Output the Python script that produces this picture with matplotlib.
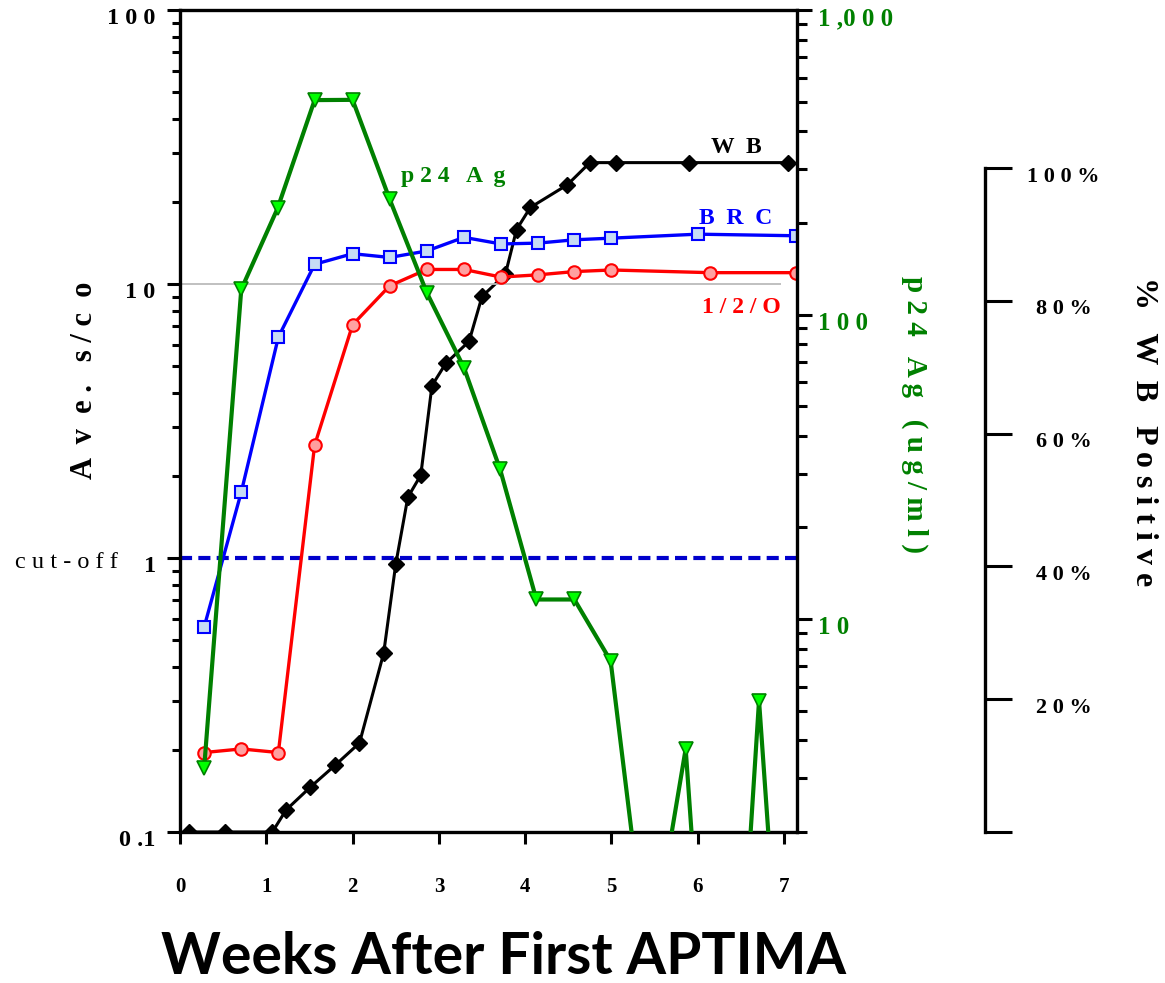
import matplotlib
matplotlib.use("Agg")
import matplotlib.pyplot as plt
from matplotlib.ticker import LogLocator, NullFormatter
from matplotlib.transforms import ScaledTranslation

# values
brc_weeks = [0.28, 0.71, 1.14, 1.56, 2.0, 2.43, 2.86, 3.29, 3.72, 4.15, 4.57, 5.0, 6.0, 7.14]
brc_sco = [0.56, 1.74, 6.4, 11.8, 12.9, 12.5, 13.2, 14.8, 14.0, 14.1, 14.5, 14.7, 15.2, 15.0]

ho_weeks = [0.28, 0.71, 1.14, 1.56, 2.0, 2.43, 2.86, 3.29, 3.72, 4.15, 4.57, 5.0, 6.14, 7.14]
ho_sco = [0.195, 0.201, 0.195, 2.58, 7.1, 9.85, 11.3, 11.3, 10.6, 10.8, 11.1, 11.25, 11.0, 11.0]

wb_weeks = [0.1, 0.52, 1.07, 1.23, 1.51, 1.8, 2.08, 2.36, 2.5, 2.64, 2.79, 2.92, 3.08,
            3.35, 3.5, 3.77, 3.9, 4.06, 4.49, 4.75, 5.05, 5.9, 7.04]
wb_pct = [0, 0, 0, 3.3, 6.7, 10, 13.3, 26.7, 40, 50, 53.3, 66.7, 70,
          73.3, 80, 83.3, 90, 93.3, 96.7, 100, 100, 100, 100]

p24_weeks = [0.28, 0.71, 1.13, 1.56, 2.0, 2.43, 2.86, 3.29, 3.71, 4.13, 4.57, 4.99,
             5.43, 5.86, 6.04, 6.51, 6.71, 6.93]
p24_ugml = [3.25, 121, 223, 506, 507, 239, 118, 67, 31, 11.6, 11.6, 7.3,
            0.7, 3.75, 0.7, 0.7, 5.4, 0.7]

x_ticks = [0, 1, 2, 3, 4, 5, 6, 7]
sco_ticks = [0.1, 1, 10, 100]
sco_labels = ["0 .1", "1", "1 0", "1 0 0"]
p24_ticks = [10, 100, 1000]
p24_labels = ["1 0", "1 0 0", "1 ,0 0 0"]
pct_ticks = [0, 20, 40, 60, 80, 100]
pct_labels = ["", "2 0 %", "4 0 %", "6 0 %", "8 0 %", "1 0 0 %"]

cutoff = 1
ref_line = 10
ref_line_end = 6.96

SERIF = "Liberation Serif"
GREEN = "#008000"
W, H = 1165, 983


def fx(px):
    return px / W


def fy(py):
    return 1 - py / H


fig = plt.figure(figsize=(11.65, 9.83), dpi=100)
box = [fx(180), fy(832), fx(797) - fx(180), fy(10) - fy(832)]

# WB on its own hidden linear axis, drawn underneath
ax_wb = fig.add_axes(box)
ax = fig.add_axes(box)
ax_p24 = fig.add_axes(box)
ax.patch.set_visible(False)
ax_p24.patch.set_visible(False)

xmax = 7.15
for a in (ax_wb, ax, ax_p24):
    a.set_xlim(0, xmax)

ax_wb.set_ylim(0, 122.8)
ax_wb.axis("off")
ax_wb.plot(wb_weeks, wb_pct, color="black", lw=2.2, marker="D", ms=8,
           mfc="black", mec="black")

# main s/co axis
ax.set_yscale("log")
ax.set_ylim(0.1, 100)
ax.hlines(ref_line, 0, ref_line_end, color="#BBBBBB", lw=1.3, zorder=1)
ax.axhline(cutoff, color="#0000CC", lw=3, dashes=(2.9, 1.5), zorder=1)
ax.plot(brc_weeks, brc_sco, color="#0000FF", lw=2.4, marker="s", ms=9,
        mfc="#C6DBF5", mec="#0000FF", mew=1.5, zorder=3)
ax.plot(ho_weeks, ho_sco, color="#FF0000", lw=2.4, marker="o", ms=9,
        mfc="#FFA0A0", mec="#FF0000", mew=1.5, zorder=3)

for s in ("left", "top", "bottom"):
    ax.spines[s].set_linewidth(2.4)
ax.spines["right"].set_visible(False)
ax.set_yticks(sco_ticks, sco_labels)
ax.yaxis.set_minor_locator(LogLocator(base=10, subs=range(2, 10)))
ax.yaxis.set_minor_formatter(NullFormatter())
ax.tick_params(axis="y", which="major", direction="out", length=9.5, width=2.2, pad=8,
               labelsize=17.5)
ax.tick_params(axis="y", which="minor", direction="out", length=6, width=2.2)
ax.set_xticks(x_ticks)
ax.tick_params(axis="x", direction="out", length=8.6, width=2.2, pad=24, labelsize=15)
for t in ax.get_yticklabels() + ax.get_xticklabels():
    t.set_fontfamily(SERIF)
    t.set_fontweight("bold")

# p24 axis on the right
ax_p24.set_yscale("log")
ax_p24.set_ylim(2, 1000)
ax_p24.plot(p24_weeks, p24_ugml, color=GREEN, lw=3, marker="v", ms=10,
            mfc="#00FF00", mec=GREEN, mew=1.2)
for s in ("left", "top", "bottom"):
    ax_p24.spines[s].set_visible(False)
ax_p24.spines["right"].set_linewidth(2.4)
ax_p24.xaxis.set_visible(False)
ax_p24.yaxis.tick_right()
ax_p24.set_yticks(p24_ticks, p24_labels)
ax_p24.yaxis.set_minor_locator(LogLocator(base=10, subs=range(2, 10)))
ax_p24.yaxis.set_minor_formatter(NullFormatter())
ax_p24.tick_params(axis="y", which="major", direction="out", length=11, width=2.2, pad=4,
                   labelsize=18, labelcolor=GREEN)
ax_p24.tick_params(axis="y", which="minor", direction="out", length=7, width=2.2)
for t in ax_p24.get_yticklabels():
    t.set_fontfamily(SERIF)
    t.set_fontweight("bold")

# separate % WB positive axis
ax_pct = fig.add_axes([fx(940), fy(832), fx(985) - fx(940), fy(10) - fy(832)])
ax_pct.patch.set_visible(False)
ax_pct.set_ylim(0, 123.8)
for s in ("left", "top", "bottom"):
    ax_pct.spines[s].set_visible(False)
ax_pct.spines["right"].set_linewidth(2.4)
ax_pct.spines["right"].set_bounds(0, 100)
ax_pct.xaxis.set_visible(False)
ax_pct.yaxis.tick_right()
ax_pct.set_yticks(pct_ticks, pct_labels)
ax_pct.tick_params(axis="y", direction="out", length=19.5, width=2.2, pad=37, labelsize=16)
for t in ax_pct.get_yticklabels():
    t.set_fontfamily(SERIF)
    t.set_fontweight("bold")
    t.set_ha("center")

# the value labels sit a little below their ticks in the original
shift = ScaledTranslation(0, -0.06, fig.dpi_scale_trans)
for t in ax.get_yticklabels() + ax_p24.get_yticklabels() + ax_pct.get_yticklabels():
    t.set_transform(t.get_transform() + shift)

# series labels
lab = dict(fontfamily=SERIF, fontweight="bold", fontsize=17, ha="center", va="center")
ax.text(6.45, 31.6, "W  B", color="black", **lab)
ax.text(6.44, 17.3, "B  R  C", color="#0000FF", **lab)
ax.text(6.51, 8.2, "1 / 2 / O", color="#FF0000", **lab)
ax.text(3.16, 24.6, "p 2 4   A  g", color=GREEN, **lab)

# axis titles
fig.text(fx(85), fy(380), "A  v  e .   s / c  o", rotation=90, ha="center", va="center",
         fontfamily=SERIF, fontweight="bold", fontsize=22)
fig.text(fx(915), fy(414), "p 2 4   A g   ( u g / m l )", rotation=270, ha="center",
         va="center", fontfamily=SERIF, fontweight="bold", fontsize=21, color=GREEN)
fig.text(fx(1143), fy(432), "%   W  B   P o s i t i v e", rotation=270, ha="center",
         va="center", fontfamily=SERIF, fontweight="bold", fontsize=23)
fig.text(fx(15), fy(563), "c u t - o f f", ha="left", va="center",
         fontfamily=SERIF, fontsize=17.5)
fig.text(fx(504), fy(958), "Weeks After First APTIMA", ha="center", va="center",
         fontfamily="Lato", fontweight="bold", fontsize=41)

fig.savefig("out.png", dpi=100)
